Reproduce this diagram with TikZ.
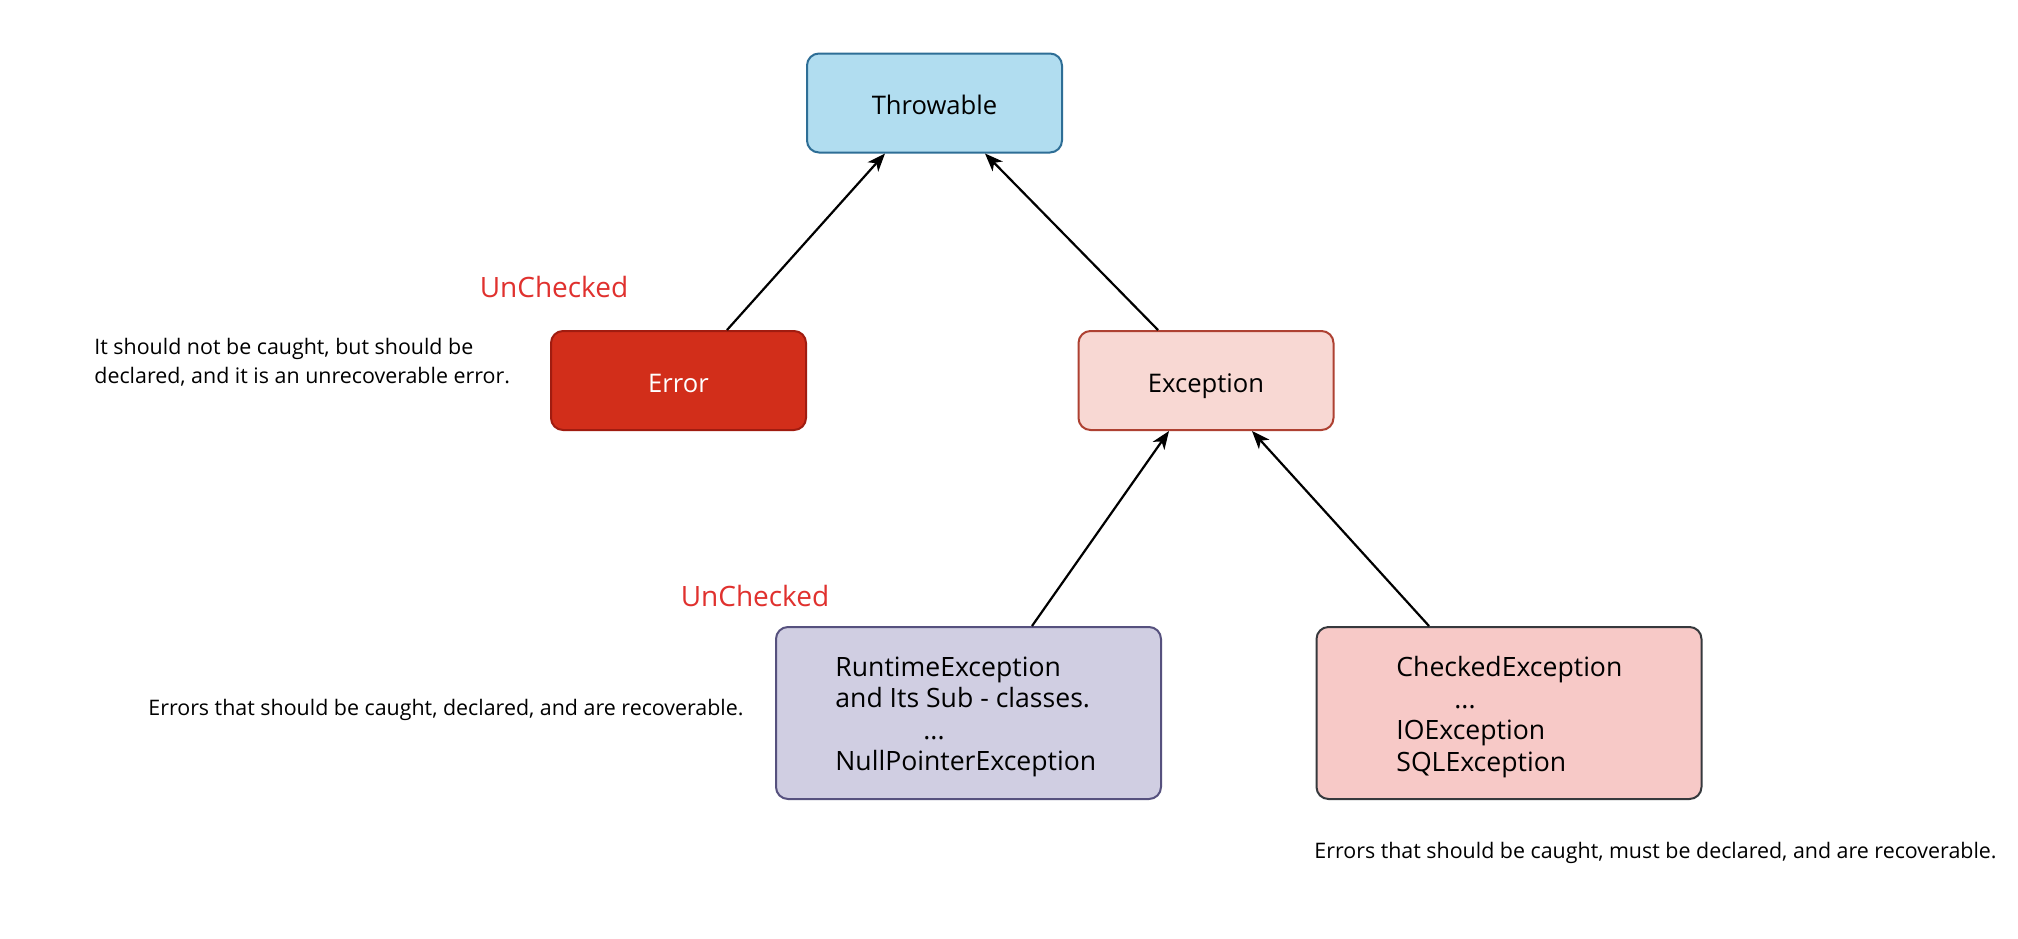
\documentclass[tikz,border=0pt]{standalone}
\usepackage{fontspec}
\setmainfont{Open Sans}
\usetikzlibrary{arrows.meta,calc}
\definecolor{tbfill}{HTML}{B1DDF0}
\definecolor{tbline}{HTML}{2E6E96}
\definecolor{erfill}{HTML}{D22E1A}
\definecolor{erline}{HTML}{A01C10}
\definecolor{exfill}{HTML}{F8D8D3}
\definecolor{exline}{HTML}{AE4132}
\definecolor{rtfill}{HTML}{D0CEE2}
\definecolor{rtline}{HTML}{56517E}
\definecolor{ckfill}{HTML}{F7C9C7}
\definecolor{ckline}{HTML}{36393D}
\definecolor{unred}{HTML}{E0312E}
\tikzset{
  x=0.5pt, y=-0.5pt,
  box/.style={rounded corners=6pt, line width=1pt, minimum width=127.5pt, minimum height=49.5pt, font=\fontsize{12.8}{15}\selectfont, inner sep=0pt, text depth=1pt, text height=12.5pt},
  bigbox/.style={rounded corners=6pt, line width=1pt, minimum width=192.5pt, minimum height=86pt, inner sep=0pt},
  boxtext/.style={anchor=west, font=\fontsize{13.3}{15.8}\selectfont, inner sep=0pt, align=left},
  note/.style={font=\fontsize{10.7}{14.5}\selectfont, inner sep=0pt, align=left},
  uncheck/.style={font=\fontsize{14}{16}\selectfont, text=unred, inner sep=0pt},
  arr/.style={-{Stealth[length=9pt,width=7pt,inset=2.5pt]}, line width=1.1pt, black}
}
\begin{document}
\begin{tikzpicture}
\useasboundingbox (0,0) rectangle (2018,938);
\fill[white] (0,0) rectangle (2018,938);
\node[box, fill=tbfill, draw=tbline] (thr) at (934.5,103) {Throwable};
\node[box, fill=erfill, draw=erline, text=white] (err) at (678.5,380.5) {Error};
\node[box, fill=exfill, draw=exline] (exc) at (1206,380.5) {Exception};
\node[bigbox, fill=rtfill, draw=rtline] (rt) at (968.5,713) {};
\node[bigbox, fill=ckfill, draw=ckline] (ck) at (1509,713) {};
\node[boxtext] (rtt) at (835,717) {RuntimeException\\and Its Sub - classes.\\\hspace*{44pt}...\\NullPointerException};
\node[boxtext] (ckt) at (1396,717) {CheckedException\\\hspace*{29pt}...\\IOException\\SQLException};
\node[uncheck] (u1) at (554,287) {UnChecked};
\node[uncheck] (u2) at (755,596) {UnChecked};
\node[note, anchor=west] (n1) at (94,362) {It should not be caught, but should be\\declared, and it is an unrecoverable error.};
\node[note, anchor=west] (n2) at (148,710) {Errors that should be caught, declared, and are recoverable.};
\node[note, anchor=west] (n3) at (1314,853) {Errors that should be caught, must be declared, and are recoverable.};
\draw[arr] ($(err.north)+(48.5,0)$) -- ($(thr.south)+(-49.5,0)$);
\draw[arr] ($(exc.north)+(-48,0)$) -- ($(thr.south)+(50.5,0)$);
\draw[arr] ($(rt.north)+(63.5,0)$) -- ($(exc.south)+(-37,0)$);
\draw[arr] ($(ck.north)+(-80,0)$) -- ($(exc.south)+(46,0)$);
\end{tikzpicture}
\end{document}
